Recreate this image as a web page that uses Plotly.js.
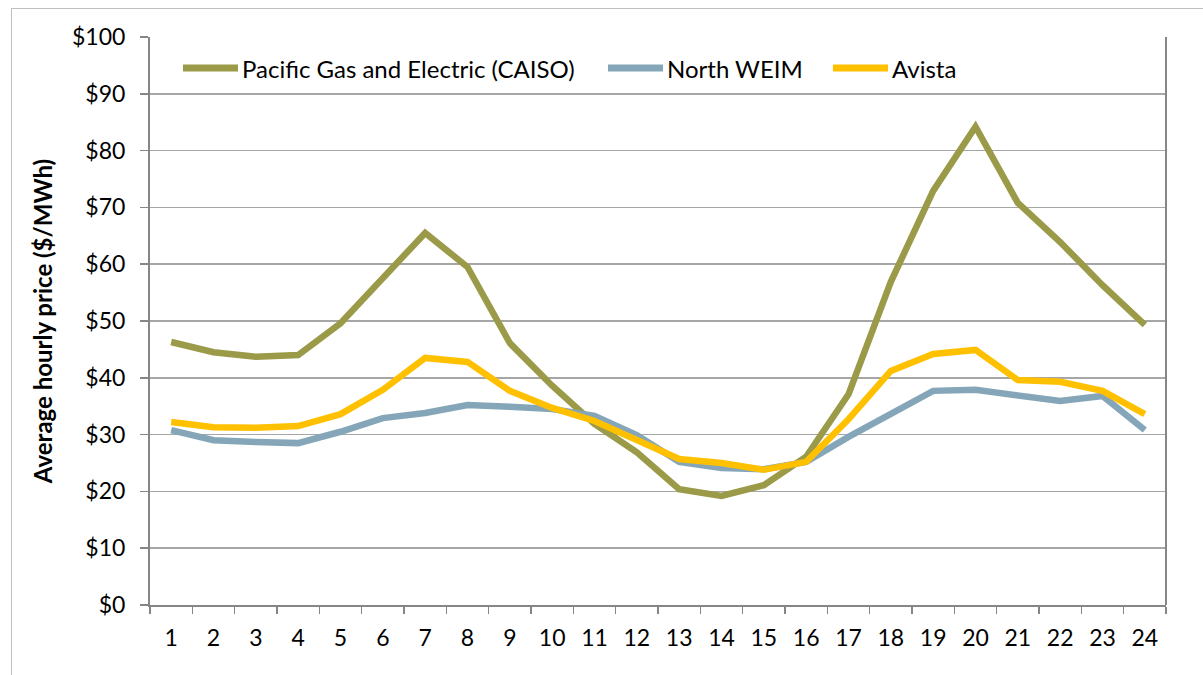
<!DOCTYPE html>
<html>
<head>
<meta charset="utf-8">
<script src="https://cdn.plot.ly/plotly-3.0.1.min.js"></script>
<style>
html,body{margin:0;padding:0;background:#fff;overflow:hidden;}
#frame{position:absolute;left:11px;top:8px;width:1250px;height:700px;border:1px solid #bfbfbf;}
#chart{position:absolute;left:0;top:0;width:1203px;height:675px;}
</style>
</head>
<body>
<div id="frame"></div>
<div id="chart"></div>
<script>
const hours = [1,2,3,4,5,6,7,8,9,10,11,12,13,14,15,16,17,18,19,20,21,22,23,24];
const pge = [46.3,44.5,43.7,44.0,49.6,57.6,65.5,59.5,46.1,38.6,31.9,26.9,20.4,19.2,21.1,26.1,37.1,56.9,72.9,84.2,70.8,63.9,56.3,49.3];
const northWeim = [30.8,29.0,28.7,28.5,30.5,32.9,33.8,35.2,34.9,34.5,33.3,29.9,25.2,24.1,23.9,25.2,29.6,33.6,37.7,37.9,36.8,35.9,36.8,30.8];
const avista = [32.2,31.3,31.2,31.5,33.6,37.9,43.5,42.8,37.7,34.7,32.4,28.9,25.7,25.0,23.8,25.2,32.7,41.2,44.2,44.9,39.6,39.3,37.7,33.6];
const seriesNames = ["Pacific Gas and Electric (CAISO)", "North WEIM", "Avista"];
const yTickVals = [0,10,20,30,40,50,60,70,80,90,100];
const yTickText = ["$0","$10","$20","$30","$40","$50","$60","$70","$80","$90","$100"];
const boundaries = [0.5,1.5,2.5,3.5,4.5,5.5,6.5,7.5,8.5,9.5,10.5,11.5,12.5,13.5,14.5,15.5,16.5,17.5,18.5,19.5,20.5,21.5,22.5,23.5,24.5];

const colors = ["#9A9A48", "#84A6B8", "#FFC000"];
const data = [pge, northWeim, avista].map((ys, i) => ({
  x: hours, y: ys, type: "scatter", mode: "lines", name: seriesNames[i],
  line: {color: colors[i], width: 6.5}
}));

// legend drawn as paper-coordinate shapes + annotations (Excel-style long swatches)
const legendY = 0.9454;
const legendX = [[0.0325, 0.0866], [0.4508, 0.5049], [0.6722, 0.7264]];
const shapes = legendX.map((p, i) => ({
  type: "line", xref: "paper", yref: "paper", x0: p[0], x1: p[1], y0: legendY, y1: legendY,
  line: {color: colors[i], width: 7}
}));
shapes.push({type: "line", xref: "paper", yref: "paper", x0: 1, x1: 1, y0: 0, y1: 1,
  line: {color: "#868686", width: 2}});
const font = "Lato, 'Open Sans', sans-serif";
const annotations = legendX.map((p, i) => ({
  xref: "paper", yref: "paper", x: p[1] + 0.002, y: legendY, xanchor: "left", yanchor: "middle",
  text: seriesNames[i], showarrow: false, font: {family: font, size: 24, color: "#000"}
}));

const layout = {
  width: 1203, height: 675,
  margin: {l: 150, r: 37, t: 37, b: 70},
  paper_bgcolor: "rgba(0,0,0,0)", plot_bgcolor: "#fff",
  font: {family: font, color: "#000", size: 23},
  showlegend: false,
  xaxis: {
    range: [0.5, 24.5], tickvals: hours, ticktext: hours.map(String), ticks: "",
    showgrid: false, zeroline: false, showline: true, linecolor: "#868686", linewidth: 2,
    tickfont: {size: 23, family: font}, ticklabelstandoff: 11,
    minor: {tickvals: boundaries, ticks: "outside", ticklen: 7, tickcolor: "#868686", tickwidth: 1.5, showgrid: false}
  },
  yaxis: {
    range: [0, 100], tickvals: yTickVals, ticktext: yTickText, ticks: "outside", ticklen: 8,
    tickcolor: "#868686", tickwidth: 1.5, ticklabelstandoff: 10,
    showgrid: true, gridcolor: "#a6a6a6", gridwidth: 1.5, zeroline: false,
    showline: true, linecolor: "#868686", linewidth: 2,
    tickfont: {size: 23, family: font},
    title: {text: "<b>Average hourly price ($/MWh)</b>", font: {size: 24, family: font}, standoff: 13}
  },
  shapes: shapes,
  annotations: annotations
};
Plotly.newPlot("chart", data, layout, {displayModeBar: false, staticPlot: true});
</script>
</body>
</html>
